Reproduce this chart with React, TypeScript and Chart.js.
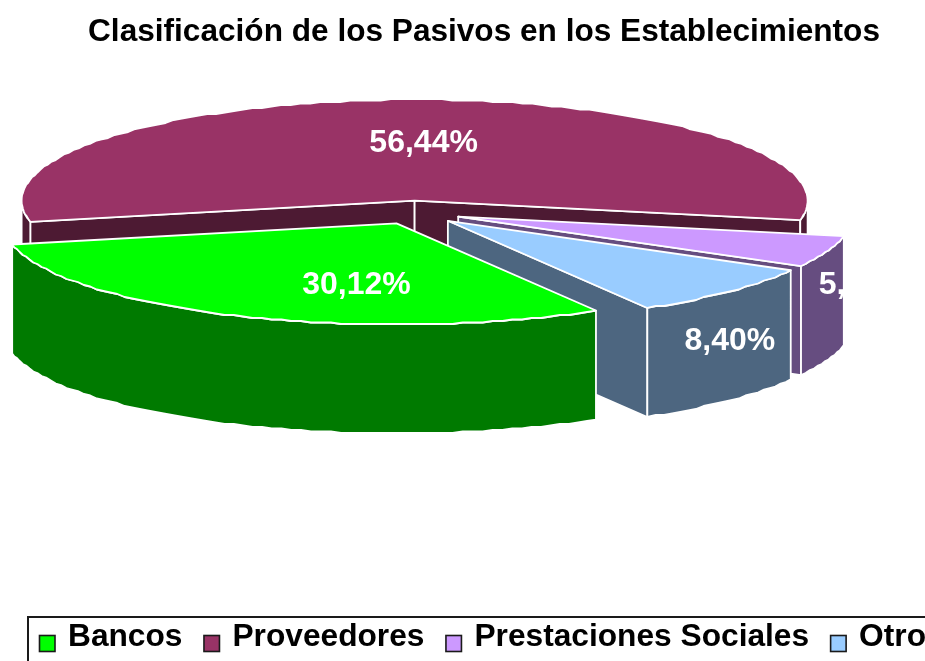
import React, { useEffect, useRef } from "react";
import { Chart, registerables } from "chart.js";

Chart.register(...registerables);

const categories = ["Bancos", "Proveedores", "Prestaciones Sociales", "Otro"];
const shares = [30.12, 56.44, 5.04, 8.4];
const topColors = ["#00FF00", "#993366", "#CC99FF", "#99CCFF"];
const wallColors = ["#007A00", "#4D1A33", "#664D80", "#4D6680"];
const titleText = "Clasificación de los Pasivos en los Establecimientos";

const FONT = "'Liberation Sans', Arial, sans-serif";
const SQUASH = 0.2575;
const DEPTH = 109;
const CENTER_X = 415;
const CENTER_Y = 212.5;
// label placement relative to each slice's apex, in screen pixels
const labelShift = [[-40, 62], [9, -57], [406, 69], [282, 120]];

const pie3d = {
  id: "pie3d",
  beforeDatasetsDraw(chart: any) {
    const ctx = chart.ctx as CanvasRenderingContext2D;
    const arcs = chart.getDatasetMeta(0).data as any[];
    const slices = arcs.map((arc, i) => {
      const p = arc.getProps(["x", "y", "startAngle", "endAngle", "outerRadius"], true);
      const offset = arc.options.offset || 0;
      const mid = (p.startAngle + p.endAngle) / 2;
      return {
        i,
        s: p.startAngle,
        e: p.endAngle,
        r: p.outerRadius,
        ax: CENTER_X + Math.cos(mid) * offset,
        ay: CENTER_Y + Math.sin(mid) * offset * SQUASH,
      };
    });
    const ordered = [...slices].sort((a, b) => a.ay - b.ay);

    const rim = (sl: any, from: number, to: number) => {
      const pts: number[][] = [];
      const step = (1.5 * Math.PI) / 180;
      const n = Math.max(1, Math.ceil((to - from) / step));
      for (let j = 0; j <= n; j++) {
        const a = from + ((to - from) * j) / n;
        const x = sl.ax + sl.r * Math.cos(a);
        let y = sl.ay + sl.r * SQUASH * Math.sin(a);
        if (j > 0 && j < n) y = Math.round(y / 1.5) * 1.5;
        pts.push([x, y]);
      }
      return pts;
    };
    const shape = (pts: number[][], fill: string) => {
      ctx.beginPath();
      pts.forEach((q, j) => (j ? ctx.lineTo(q[0], q[1]) : ctx.moveTo(q[0], q[1])));
      ctx.closePath();
      ctx.fillStyle = fill;
      ctx.fill();
      ctx.strokeStyle = "#FFFFFF";
      ctx.lineWidth = 1.8;
      ctx.lineJoin = "round";
      ctx.stroke();
    };

    ctx.save();
    for (const sl of ordered) {
      const wall = wallColors[sl.i];
      // radial cut faces that look towards the viewer
      const faces: [number, number][] = [
        [sl.s, sl.s - Math.PI / 2],
        [sl.e, sl.e + Math.PI / 2],
      ];
      for (const [a, normal] of faces) {
        if (Math.sin(normal) <= 0) continue;
        const x = sl.ax + sl.r * Math.cos(a);
        const y = sl.ay + sl.r * SQUASH * Math.sin(a);
        shape(
          [[sl.ax, sl.ay], [x, y], [x, y + DEPTH], [sl.ax, sl.ay + DEPTH]],
          wall
        );
      }
      // outer wall, front half of the ellipse only
      for (let t = -2; t <= 4; t += 2) {
        const lo = Math.max(sl.s, t * Math.PI);
        const hi = Math.min(sl.e, (t + 1) * Math.PI);
        if (hi <= lo) continue;
        const edge = rim(sl, lo, hi);
        const low = edge.map((q) => [q[0], q[1] + DEPTH]).reverse();
        shape([...edge, ...low], wall);
      }
      // top face
      shape([[sl.ax, sl.ay], ...rim(sl, sl.s, sl.e)], topColors[sl.i]);
    }

    // value labels
    ctx.font = `bold 32px ${FONT}`;
    ctx.textAlign = "center";
    ctx.textBaseline = "middle";
    ctx.fillStyle = "#FFFFFF";
    for (const sl of slices) {
      const text = shares[sl.i].toFixed(2).replace(".", ",") + "%";
      const shift = labelShift[sl.i];
      ctx.fillText(text, sl.ax + shift[0], sl.ay + shift[1]);
    }
    ctx.restore();
    return false;
  },
  afterDraw(chart: any) {
    const ctx = chart.ctx as CanvasRenderingContext2D;
    ctx.save();
    ctx.strokeStyle = "#1A1A1A";
    ctx.lineWidth = 2;
    ctx.strokeRect(28, 617, 1000, 100);
    ctx.font = `bold 31.7px ${FONT}`;
    ctx.textAlign = "left";
    ctx.textBaseline = "alphabetic";
    let x = 39.5;
    categories.forEach((label, i) => {
      ctx.fillStyle = topColors[i];
      ctx.fillRect(x, 635.5, 15.5, 16);
      ctx.strokeStyle = "#1A1A1A";
      ctx.lineWidth = 1.6;
      ctx.strokeRect(x, 635.5, 15.5, 16);
      ctx.fillStyle = "#000000";
      const tx = x + 28.5;
      ctx.fillText(label, tx, 646);
      x = tx + ctx.measureText(label).width + 21.5;
    });
    ctx.restore();
  },
};

export default function App() {
  const ref = useRef<HTMLCanvasElement>(null);
  useEffect(() => {
    document.body.style.margin = "0";
    document.body.style.overflow = "hidden";
    const chart = new Chart(ref.current as HTMLCanvasElement, {
      type: "pie",
      data: {
        labels: categories,
        datasets: [
          {
            data: shares,
            backgroundColor: topColors,
            borderColor: "#FFFFFF",
            borderWidth: 1.8,
            offset: 46,
          },
        ],
      },
      options: {
        responsive: false,
        animation: false,
        rotation: 149.5,
        radius: 393,
        events: [],
        layout: { padding: { left: 43 } },
        plugins: {
          legend: { display: false },
          tooltip: { enabled: false },
          title: {
            display: true,
            text: titleText,
            color: "#000000",
            fullSize: false,
            font: { family: FONT, size: 31.6, weight: "bold" },
            padding: { top: 13, bottom: 10 },
          },
        },
      } as any,
      plugins: [pie3d],
    });
    return () => chart.destroy();
  }, []);
  return (
    <div style={{ width: 925, height: 661, overflow: "hidden", background: "#fff" }}>
      <canvas ref={ref} width={925} height={661} style={{ display: "block" }} />
    </div>
  );
}
